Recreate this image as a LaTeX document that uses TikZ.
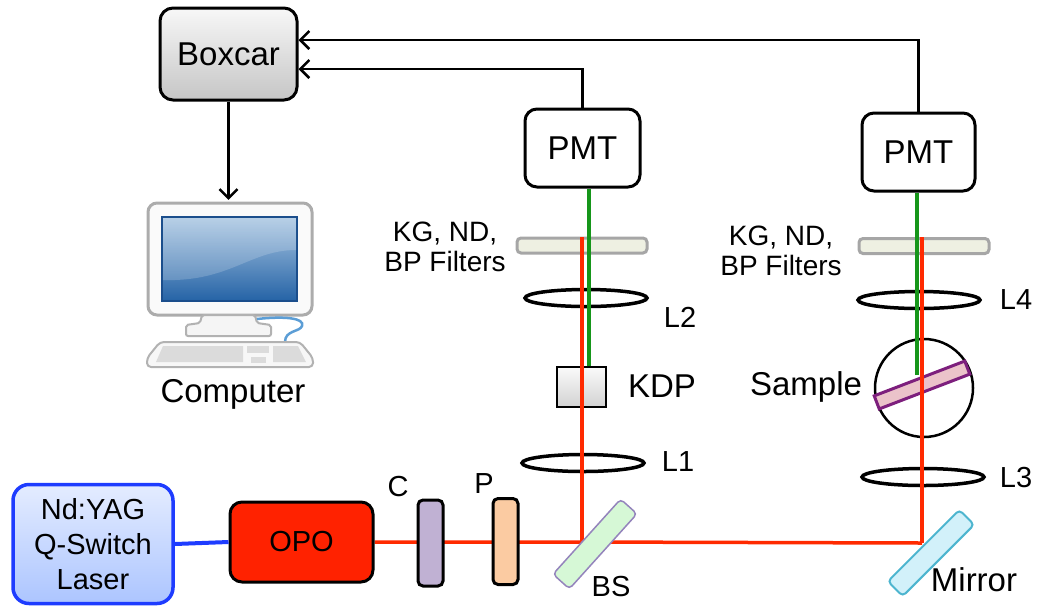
\documentclass[tikz,border=0pt]{standalone}
\usepackage{fontspec}
\setmainfont{Liberation Sans}
\usepackage{tikz}
\usetikzlibrary{shapes.geometric,arrows.meta,backgrounds}

\definecolor{beamred}{HTML}{FF2A00}
\definecolor{beamgreen}{HTML}{16961A}
\definecolor{pumpblue}{HTML}{1E3CFF}
\definecolor{laserhi}{HTML}{E4ECFF}
\definecolor{laserlo}{HTML}{ACC5FF}
\definecolor{opored}{HTML}{FF2200}
\definecolor{plateC}{HTML}{C0B1D3}
\definecolor{plateP}{HTML}{FBCBA2}
\definecolor{bsgreen}{HTML}{D6F8D6}
\definecolor{bsedge}{HTML}{9484BC}
\definecolor{mirfill}{HTML}{D2F1FA}
\definecolor{miredge}{HTML}{4DB5CF}
\definecolor{filtfill}{HTML}{EEF0E2}
\definecolor{slabfill}{HTML}{EBC3CA}
\definecolor{slabedge}{HTML}{7D1F7D}
\definecolor{screenhi}{HTML}{A9C6E2}
\definecolor{screenlo}{HTML}{2563A6}
\definecolor{screenedge}{HTML}{1B4E8C}
\definecolor{cable}{HTML}{5C9ED6}

\tikzset{
  big/.style={font=\fontsize{33}{38}\selectfont},
  mid/.style={font=\fontsize{29}{34}\selectfont},
  box/.style={draw, line width=3pt, rounded corners=13pt, big},
  plate/.style={draw, line width=3pt, rounded corners=5pt, minimum width=25pt, minimum height=86pt},
  lens/.style={draw, ellipse, line width=3.5pt, minimum width=122pt, minimum height=17pt, inner sep=0pt},
  filter/.style={draw=gray!70, fill=filtfill, line width=3pt, rounded corners=4pt, minimum width=130pt, minimum height=15pt, inner sep=0pt},
  sig/.style={line width=2.5pt, -{Straight Barb[length=9pt,width=18pt]}},
  red beam/.style={beamred, line width=3.5pt},
  green beam/.style={beamgreen, line width=4pt},
}

\begin{document}
\begin{tikzpicture}[x=1pt,y=-1pt]
    \useasboundingbox (0,0) rectangle (1038,606);

    % detection electronics
    \node[box, minimum width=137pt, minimum height=92pt, top color=gray!6, bottom color=gray!45] (boxcar) at (228.5,54) {Boxcar};
    \node[box, minimum width=115pt, minimum height=78pt, rounded corners=12pt] (pmtA) at (582.5,148) {PMT};
    \node[box, minimum width=113pt, minimum height=78pt, rounded corners=12pt] (pmtB) at (918.5,152) {PMT};
    \draw[sig] (pmtA.north) |- ([yshift=-15pt]boxcar.east);
    \draw[sig] (pmtB.north) |- ([yshift=14pt]boxcar.east);

    % computer
    \node[minimum width=166pt, minimum height=168pt, inner sep=0pt] (pc) at (230,284) {};
    \draw[sig] (boxcar.south) -- (boxcar.south |- pc.north);
    \draw[gray!65, line width=3pt, fill=gray!4, rounded corners=9pt] (148,203) rectangle (312,315);
    \shadedraw[top color=screenhi, bottom color=screenlo, draw=screenedge, line width=2pt] (162,217) rectangle (297,301);
    \fill[white, opacity=0.18] (163,218) -- (296,218) -- (296,250) .. controls (250,250) and (230,282) .. (163,280) -- cycle;
    \draw[gray!60, line width=2pt, fill=gray!8, rounded corners=2pt] (202,315) -- (255,315) -- (257,323) -- (271,325) -- (271,336) -- (186,336) -- (186,325) -- (200,323) -- cycle;
    \draw[cable, line width=2.5pt] (257,319) .. controls (285,316) and (305,318) .. (302,326) .. controls (300,332) and (285,330) .. (285,342);
    \draw[gray!60, line width=2pt, fill=gray!6, rounded corners=4pt] (160,342) -- (300,342) -- (313,358) -- (313,367) -- (147,367) -- (147,358) -- cycle;
    \fill[gray!28] (163,346) -- (243,346) -- (243,362) -- (156,362) -- cycle;
    \fill[gray!28] (247,346) rectangle (269,353);
    \fill[gray!28] (251,357) rectangle (266,363);
    \fill[gray!28] (273,346) -- (298,346) -- (306,362) -- (273,362) -- cycle;
    \node[big] (pclbl) at (233,394) {Computer};

    % laser, OPO and beam optics
    \node[box, font=\fontsize{29}{35}\selectfont, align=center, draw=pumpblue, line width=3.5pt, rounded corners=16pt, top color=laserhi, bottom color=laserlo, minimum width=160pt, minimum height=119pt] (laser) at (93,544) {Nd:YAG\\Q-Switch\\Laser};
    \node[box, mid, fill=opored, minimum width=143pt, minimum height=80pt, rounded corners=12pt] (opo) at (301.5,542) {OPO};
    \draw[pumpblue, line width=4pt] (laser.east) -- (opo.west);

    \node[plate, fill=plateC] (cplate) at (430.5,543) {};
    \node[plate, fill=plateP] (pplate) at (505.5,541.5) {};
    \node[mid] (clbl) at (398,487) {C};
    \node[mid] (plbl) at (484,484) {P};

    \node[draw=bsedge, fill=bsgreen, line width=1.5pt, rounded corners=4pt, minimum width=101pt, minimum height=22pt, rotate=48] (bs) at (595,544) {};
    \node[mid] (bslbl) at (611,587) {BS};
    \node[draw=miredge, fill=mirfill, line width=2pt, rounded corners=4pt, minimum width=101pt, minimum height=21pt, rotate=45] (mirror) at (931,553) {};
    \node[big] (mirlbl) at (974,580) {Mirror};

    \coordinate (hitA) at (582,542);
    \coordinate (hitB) at (922,543);
    \coordinate (glow) at (917,375);

    \node[mid] (lblA) at (678,462) {L1};
    \node[mid] (lblB) at (680,317) {L2};
    \node[mid] (lblC) at (1016,478) {L3};
    \node[mid] (lblD) at (1016,300) {L4};
    \node[big] (kdplbl) at (662,386) {KDP};
    \node[big] (samplbl) at (806,387) {Sample};
    \node[font=\fontsize{28}{30}\selectfont, align=center] (filtAlbl) at (445,247) {KG, ND,\\BP Filters};
    \node[font=\fontsize{28}{30}\selectfont, align=center] (filtBlbl) at (781,251) {KG, ND,\\BP Filters};

    \begin{scope}[on background layer]
        \node[lens] (lensA) at (583,463) {};
        \node[lens] (lensB) at (586,298) {};
        \node[lens] (lensC) at (923,477) {};
        \node[lens] (lensD) at (919,300) {};
        \node[filter] (filtA) at (582,245.5) {};
        \node[filter] (filtB) at (924,246) {};
        \node[draw, line width=1.5pt, top color=gray!4, bottom color=gray!35, minimum width=49pt, minimum height=40pt] (kdp) at (581.5,387) {};
        \node[draw, circle, line width=2.5pt, minimum size=98pt] (cell) at (924,388) {};
        \node[draw=slabedge, fill=slabfill, line width=3pt, minimum width=97pt, minimum height=14pt, inner sep=0pt, rotate=21] (slab) at (922,385) {};

        % fundamental and second harmonic
        \draw[red beam] (opo.east) -- (hitA) -- (hitB);
        \draw[red beam] (hitA) -- (hitA |- filtA.north);
        \draw[red beam] (hitB) -- (hitB |- filtB.north);
        \draw[green beam] ([xshift=7pt]kdp.north) -- ([xshift=7pt]kdp.north |- pmtA.south);
        \draw[green beam] (glow) -- (glow |- pmtB.south);
    \end{scope}
\end{tikzpicture}
\end{document}
